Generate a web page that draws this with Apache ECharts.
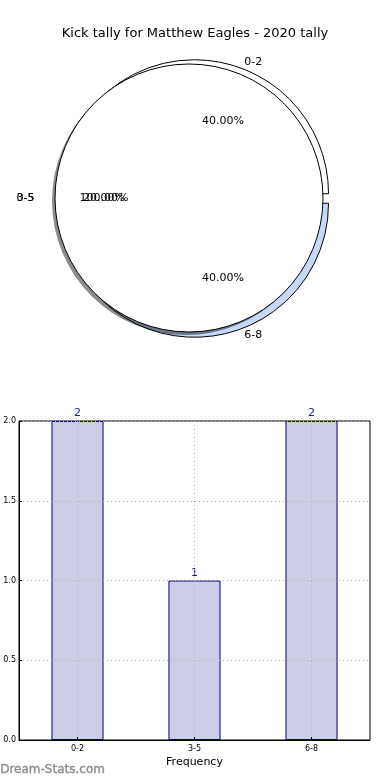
<!DOCTYPE html>
<html>
<head>
<meta charset="utf-8">
<script src="https://cdn.jsdelivr.net/npm/echarts@6/dist/echarts.min.js"></script>
<style>
html,body{margin:0;padding:0;background:#fff;}
#chart{width:390px;height:780px;}
</style>
</head>
<body>
<div id="chart"></div>
<script>
// ---- data ----
const titleText = 'Kick tally for Matthew Eagles - 2020 tally';
const categories = ['0-2', '3-5', '6-8'];
const kickCounts = [2, 1, 2];
const totalLabel = '0-5';
const yTicks = [0, 0.5, 1.0, 1.5, 2.0];
const xAxisName = 'Frequency';
const watermark = 'Dream-Stats.com';

// ---- styling ----
const FONT = 'DejaVu Sans';
const explodedSlices = ['0-2', '6-8'];
const sliceColors = ['#ffffff', '#ffffff', '#c6d9fa'];
const R = 134;
const mainCenter = [189, 198];
const backCenter = [193, 198.5];
const shadowCenter = [186, 201];
const pctCenter = [197.5, 199.5];

const total = kickCounts.reduce((a, b) => a + b, 0);
const isExploded = c => explodedSlices.includes(c);
const pieData = categories.map((c, i) => ({
  name: c, value: kickCounts[i], selected: isExploded(c),
  itemStyle: { color: sliceColors[i] }, label: { show: isExploded(c) }
}));
const labelDataRest = categories.map((c, i) => ({
  name: c, value: kickCounts[i], label: { show: !isExploded(c) }
}));
const pctDataExploded = categories.map((c, i) => ({
  name: c, value: kickCounts[i], selected: isExploded(c), label: { show: isExploded(c) }
}));
const totalData = [{ name: totalLabel, value: total }];

const pctFmt = p => p.percent.toFixed(2) + '%';
const outsideLabel = { show: true, position: 'outside', formatter: '{b}', fontFamily: FONT, fontSize: 11, color: '#000' };
const insideLabel = { show: true, position: 'inside', formatter: pctFmt, fontFamily: FONT, fontSize: 11, color: '#000' };
const transparentStyle = { color: 'rgba(0,0,0,0)', borderWidth: 0 };
const commonPie = {
  type: 'pie', startAngle: 0, clockwise: false, silent: true,
  avoidLabelOverlap: false, selectedMode: 'multiple', selectedOffset: 5,
  labelLayout: { hideOverlap: false, moveOverlap: null },
  emphasis: { disabled: true }, select: { disabled: false, itemStyle: {} },
  animation: false,
  labelLine: { show: false, length: 13, length2: 0 }
};

const chart = echarts.init(document.getElementById('chart'), null, { renderer: 'canvas' });
chart.setOption({
  animation: false,
  title: {
    text: titleText, left: 'center', top: 22,
    textStyle: { fontFamily: FONT, fontSize: 13, fontWeight: 'normal', color: '#000' }
  },
  graphic: [{
    type: 'text', left: 0, top: 764,
    style: { text: watermark, fontFamily: FONT, fontSize: 12, fontWeight: 'normal',
      fill: '#8f8f8f', stroke: '#8f8f8f', lineWidth: 0.4 }
  }],
  grid: {
    left: 19, right: 20, top: 421, bottom: 40,
    show: true, borderColor: '#000', borderWidth: 1, backgroundColor: '#fff'
  },
  xAxis: {
    type: 'category', data: categories, z: 5,
    name: xAxisName, nameLocation: 'middle', nameGap: 17,
    nameTextStyle: { fontFamily: FONT, fontSize: 11, color: '#000' },
    axisLine: { show: true, lineStyle: { color: '#000' } },
    axisTick: { show: true, alignWithLabel: true, inside: true, length: 3, lineStyle: { color: '#000' } },
    axisLabel: { fontFamily: FONT, fontSize: 8, color: '#000', margin: 5 },
    splitLine: { show: true, alignWithLabel: true, lineStyle: { color: '#b0b0b0', type: [1, 3], width: 1 } }
  },
  yAxis: {
    type: 'value', min: yTicks[0], max: yTicks[yTicks.length - 1], interval: 0.5, z: 5,
    axisLine: { show: true, lineStyle: { color: '#000' } },
    axisTick: { show: true, inside: true, length: 3, lineStyle: { color: '#000' } },
    axisLabel: { fontFamily: FONT, fontSize: 8, color: '#000', margin: 3, formatter: v => v.toFixed(1) },
    splitLine: { show: true, lineStyle: { color: '#b0b0b0', type: [1, 3], width: 1 } }
  },
  series: [
    {
      type: 'bar', data: kickCounts, barWidth: '44.5%', z: 2,
      itemStyle: { color: '#ccccE5', borderColor: '#000080', borderWidth: 1 },
      label: { show: true, position: 'top', distance: 2, fontFamily: FONT, fontSize: 11, color: '#1a1a8a' },
      emphasis: { disabled: true }
    },
    // exploded slice pie (behind)
    Object.assign({}, commonPie, {
      center: backCenter, radius: R, z: 2, data: pieData,
      itemStyle: { borderColor: '#000', borderWidth: 1 },
      label: outsideLabel,
      labelLine: { show: false, length: 4.6, length2: 2 }
    }),
    // name label of the non-exploded slice
    Object.assign({}, commonPie, {
      center: mainCenter, radius: R, z: 4, data: labelDataRest,
      itemStyle: transparentStyle, label: outsideLabel,
      labelLine: { show: false, length: 15.6, length2: 0 }
    }),
    // shadow of the full pie
    Object.assign({}, commonPie, {
      center: shadowCenter, radius: R, z: 2, data: totalData, selectedOffset: 0,
      itemStyle: { color: 'rgba(0,0,0,0.45)', borderWidth: 0 },
      label: { show: false }
    }),
    // full single-slice pie on top
    Object.assign({}, commonPie, {
      center: mainCenter, radius: R, z: 3, data: totalData, selectedOffset: 0,
      itemStyle: { color: '#fff', borderColor: '#000', borderWidth: 1 },
      label: outsideLabel,
      labelLine: { show: false, length: 15.6, length2: 0 }
    }),
    // percentage labels
    Object.assign({}, commonPie, {
      center: pctCenter, radius: 148.7, z: 4, data: pctDataExploded,
      itemStyle: transparentStyle, label: insideLabel
    }),
    Object.assign({}, commonPie, {
      center: mainCenter, radius: 164, z: 4, data: labelDataRest,
      itemStyle: transparentStyle, label: insideLabel
    }),
    Object.assign({}, commonPie, {
      center: mainCenter, radius: 164, z: 4, data: totalData, selectedOffset: 0,
      itemStyle: transparentStyle, label: insideLabel
    })
  ]
});
</script>
</body>
</html>
